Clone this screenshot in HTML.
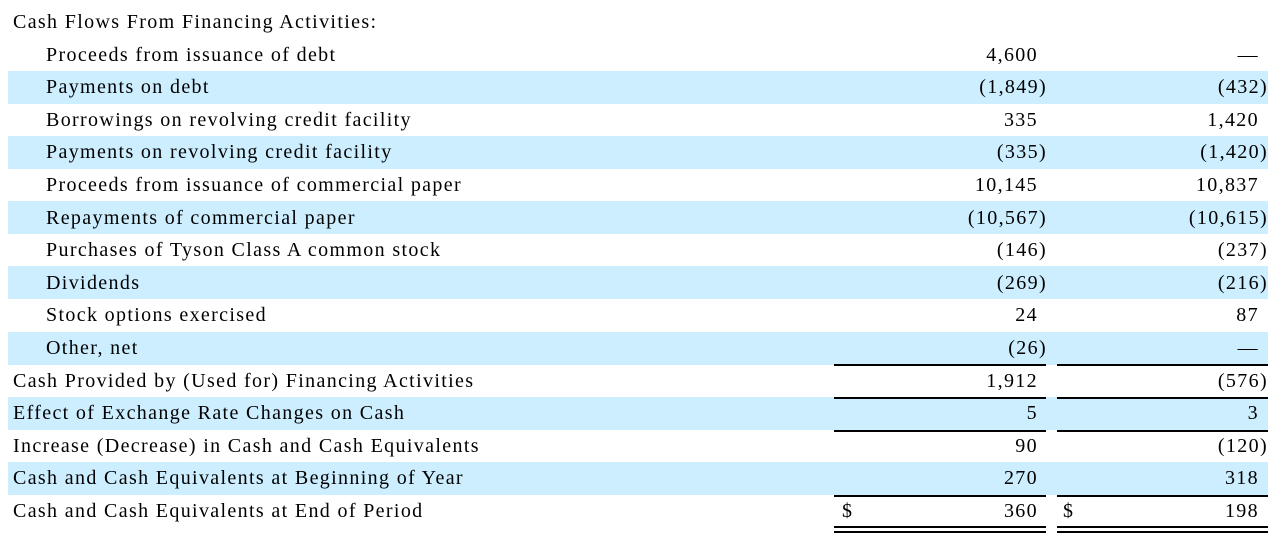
<!DOCTYPE html>
<html><head><meta charset="utf-8">
<style>
body{margin:0;width:1276px;height:548px;background:#fff;position:relative;overflow:hidden;font-family:"Liberation Serif",serif;font-size:20px;color:#000}
.band{position:absolute;left:8px;width:1260px;height:33px;background:#cceeff}
.t{position:absolute;white-space:nowrap;line-height:24px;letter-spacing:1.35px}
.r{text-align:right}
.ln{position:absolute;height:2px;background:#000}
</style></head><body>
<script>
const labels=["Cash Flows From Financing Activities:","Proceeds from issuance of debt","Payments on debt","Borrowings on revolving credit facility","Payments on revolving credit facility","Proceeds from issuance of commercial paper","Repayments of commercial paper","Purchases of Tyson Class A common stock","Dividends","Stock options exercised","Other, net","Cash Provided by (Used for) Financing Activities","Effect of Exchange Rate Changes on Cash","Increase (Decrease) in Cash and Cash Equivalents","Cash and Cash Equivalents at Beginning of Year","Cash and Cash Equivalents at End of Period"];
const indent=[0,1,1,1,1,1,1,1,1,1,1,0,0,0,0,0];
const col1=["","4,600","(1,849)","335","(335)","10,145","(10,567)","(146)","(269)","24","(26)","1,912","5","90","270","360"];
const col2=["","—","(432)","1,420","(1,420)","10,837","(10,615)","(237)","(216)","87","—","(576)","3","(120)","318","198"];
const shaded=[2,4,6,8,10,12,14];
const root=document.body;
function rowY(i){return 22+32.6*i;}
shaded.forEach(i=>{const b=document.createElement('div');b.className='band';b.style.top=(rowY(i)-16.5)+'px';


root.appendChild(b);});
labels.forEach((l,i)=>{const y=rowY(i)-12;
const d=document.createElement('div');d.className='t';d.style.left=(indent[i]?46:13)+'px';d.style.top=y+'px';d.textContent=l;


root.appendChild(d);
[[col1[i],1037,1046],[col2[i],1258,1267]].forEach(([v,rx,px])=>{if(!v)return;
const e=document.createElement('div');e.className='t r';const paren=v.startsWith('(');
const right=(paren?px:rx)+1;e.style.right=(1276-right)+'px';e.style.top=y+'px';e.textContent=v;


root.appendChild(e);});
});
[[842,15],[1063,15]].forEach(([x,i])=>{const s=document.createElement('div');s.className='t';s.style.left=x+'px';s.style.top=(rowY(i)-12)+'px';s.textContent='$';


root.appendChild(s);});
[364,397,430,495,526,531].forEach(y=>{[[834,1046],[1057,1268]].forEach(([a,b])=>{const l=document.createElement('div');l.className='ln';l.style.left=a+'px';l.style.width=(b-a)+'px';l.style.top=y+'px';


root.appendChild(l);});});
</script>
</body></html>
